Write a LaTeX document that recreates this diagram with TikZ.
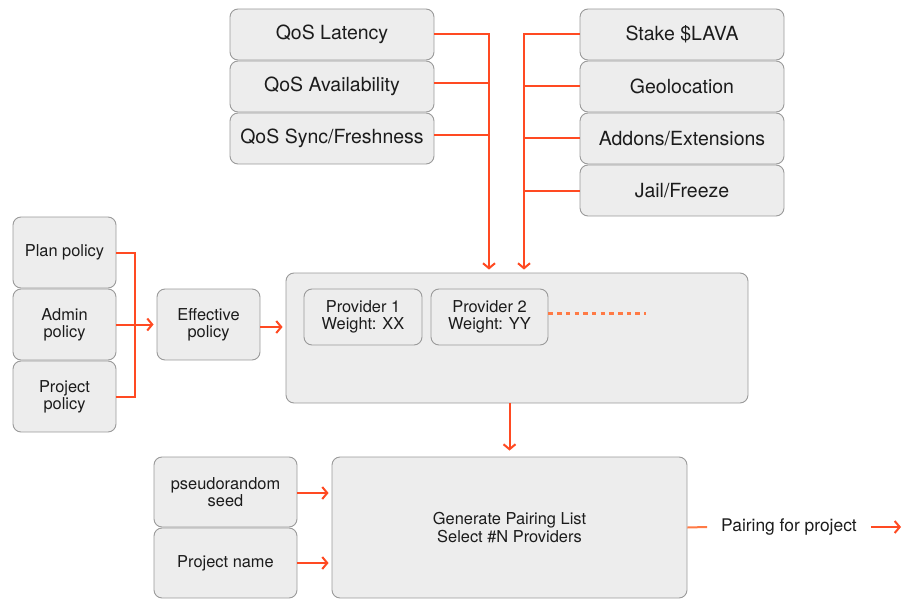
\documentclass[tikz,border=0pt]{standalone}
\usepackage{fontspec}
\setmainfont{TeX Gyre Heros}
\usetikzlibrary{arrows.meta}
\definecolor{boxfill}{HTML}{EDEDED}
\definecolor{boxline}{HTML}{9A9A9A}
\definecolor{flow}{HTML}{FF4A22}
\definecolor{flowlight}{HTML}{FF7A45}
\definecolor{ink}{HTML}{1C1C1C}

\begin{document}
\begin{tikzpicture}[x=1pt,y=-1pt,
  box/.style={draw=boxline, fill=boxfill, rounded corners=8pt, line width=0.9pt,
    text=ink, align=center, inner sep=0pt},
  bigtxt/.style={font=\fontsize{19.5}{22}\selectfont},
  smalltxt/.style={font=\fontsize{16.4}{17.2}\selectfont},
  flowline/.style={draw=flow, line width=2pt},
  flowarrow/.style={flowline, -{Straight Barb[length=5pt,width=12pt,line width=2pt]}},
  dotline/.style={draw=flowlight, line width=3pt, dash pattern=on 4.5pt off 4.2pt},
]
\useasboundingbox (0,0) rectangle (902,599);

% quality-of-service inputs
\node[box, bigtxt, minimum width=204pt, minimum height=51pt] (lat)   at (332,34.5)  {QoS Latency};
\node[box, bigtxt, minimum width=204pt, minimum height=51pt] (avail) at (332,86.5)  {QoS Availability};
\node[box, bigtxt, minimum width=204pt, minimum height=51pt] (sync)  at (332,138.5) {QoS Sync/Freshness};

% provider attributes
\node[box, bigtxt, minimum width=204pt, minimum height=51pt] (stake)  at (682,34.5)  {Stake \$LAVA};
\node[box, bigtxt, minimum width=204pt, minimum height=51pt] (geo)    at (682,86.5)  {Geolocation};
\node[box, bigtxt, minimum width=204pt, minimum height=51pt] (addons) at (682,138.5) {Addons/Extensions};
\node[box, bigtxt, minimum width=204pt, minimum height=51pt] (jail)   at (682,190.5) {Jail/Freeze};

% policies
\node[box, smalltxt, minimum width=103pt, minimum height=71pt] (plan)  at (64.5,252.5) {Plan policy};
\node[box, smalltxt, minimum width=103pt, minimum height=71pt] (admin) at (64.5,324.5) {Admin\\policy};
\node[box, smalltxt, minimum width=103pt, minimum height=71pt] (proj)  at (64.5,396.5) {Project\\policy};
\node[box, smalltxt, minimum width=103pt, minimum height=71pt] (eff)   at (208.5,324.5) {Effective\\policy};

% weighted provider pool
\node[box, minimum width=462pt, minimum height=130pt] (pool) at (517,338) {};
\node[box, smalltxt, minimum width=118pt, minimum height=56pt] (prov1) at (363,317) {Provider 1\\Weight: XX};
\node[box, smalltxt, minimum width=117pt, minimum height=56pt] (prov2) at (489.5,317) {Provider 2\\Weight: YY};
\coordinate (more) at (646,313);

% pairing
\node[box, smalltxt, minimum width=143pt, minimum height=70pt] (seed)  at (225.5,492) {pseudorandom\\seed};
\node[box, smalltxt, minimum width=143pt, minimum height=70pt] (pname) at (225.5,563) {Project name};
\node[box, smalltxt, minimum width=355pt, minimum height=141pt] (gen) at (509.5,527.5) {Generate Pairing List\\Select \#N Providers};
\node[text=ink, font=\fontsize{17.4}{20}\selectfont, inner xsep=14pt, inner ysep=0pt] (pairing) at (789,527) {Pairing for project};
\coordinate (out) at (901,527);

% bus positions
\coordinate (busL) at (489,0);
\coordinate (busR) at (524,0);
\coordinate (polbus) at (135,0);

% QoS bus
\draw[flowarrow, shorten >=3pt] (lat.east) -| (busL |- pool.north);
\draw[flowline] ([yshift=3.5pt]avail.east) -- ([yshift=3.5pt]avail.east -| busL);
\draw[flowline] ([yshift=3.5pt]sync.east) -- ([yshift=3.5pt]sync.east -| busL);

% attribute bus
\draw[flowarrow, shorten >=3pt] (stake.west) -| (busR |- pool.north);
\draw[flowline] (geo.west) -- (geo.west -| busR);
\draw[flowline] (addons.west) -- (addons.west -| busR);
\draw[flowline] (jail.west) -- (jail.west -| busR);

% policy merge
\draw[flowline] (plan.east) -| (polbus |- proj.east) -- (proj.east);
\draw[flowarrow, shorten >=3pt] (admin.east) -- (eff.west);
\draw[flowarrow, shorten >=3pt] ([yshift=-2.5pt]eff.east) -- ([yshift=-2.5pt]eff.east -| pool.west);

% more providers
\draw[dotline] ([yshift=4pt]prov2.east) -- (more);

% pool to pairing
\draw[flowarrow, shorten >=6pt] (gen.north |- pool.south) -- (gen.north);
\draw[flowarrow, shorten >=3pt] ([yshift=-1pt]seed.east) -- ([yshift=-1pt]seed.east -| gen.west);
\draw[flowarrow, shorten >=3pt] (pname.east) -- (pname.east -| gen.west);
\draw[draw=flowlight, line width=2pt] (gen.east) -- (pairing.west);
\draw[flowarrow] (pairing.east) -- (out);
\end{tikzpicture}
\end{document}
